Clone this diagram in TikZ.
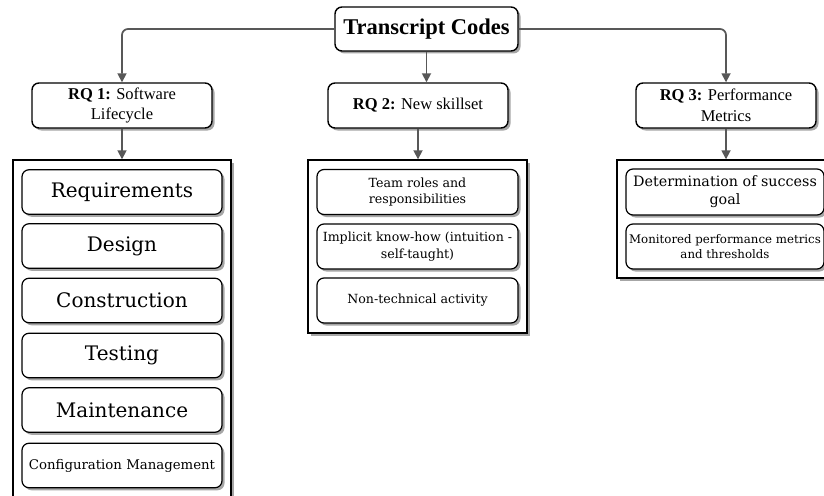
\documentclass[tikz,border=0pt]{standalone}
\usepackage{fontspec}
\setmainfont{Liberation Serif}
\newfontfamily\boxfont{DejaVu Serif}
\usetikzlibrary{arrows.meta,shadows}
\definecolor{linkgray}{HTML}{585858}
\tikzset{
  boxshadow/.style={drop shadow={shadow xshift=2.5pt, shadow yshift=-2.5pt, fill=black!35, opacity=1}},
  headbox/.style={draw=black, line width=1.4pt, rounded corners=7pt, fill=white, boxshadow, align=center, inner sep=2pt},
  rqbox/.style={headbox, minimum width=180pt, minimum height=45pt, font=\fontsize{16.5}{20.5}\selectfont},
  container/.style={draw=black, line width=1.4pt, fill=white, boxshadow},
  itembox/.style={draw=black, line width=1.2pt, rounded corners=7pt, fill=white, boxshadow, align=center, inner sep=1pt},
  link/.style={draw=linkgray, line width=1.7pt, rounded corners=6pt, -{Triangle[length=9pt,width=9pt]}}
}
\begin{document}
\begin{tikzpicture}[x=1pt,y=-1pt]
  \clip (0,0) rectangle (824,495);
  \fill[white] (0,0) rectangle (824,495);

  % root
  \node[headbox, minimum width=183pt, minimum height=44pt, font=\fontsize{22.5}{26}\bfseries\selectfont] (root) at (426.5,29) {Transcript Codes};

  % research questions
  \node[rqbox] (rq1) at (122,105.5) {\textbf{RQ 1:} Software\\Lifecycle};
  \node[rqbox] (rq2) at (418,105.5) {\textbf{RQ 2:} New skillset};
  \node[rqbox] (rq3) at (726,105.5) {\textbf{RQ 3:} Performance\\Metrics};

  % containers
  \node[container, minimum width=218pt, minimum height=350pt] (c1) at (122,335) {};
  \node[container, minimum width=219pt, minimum height=173pt] (c2) at (417.5,246.5) {};
  \node[container, minimum width=216pt, minimum height=118pt] (c3) at (725,219) {};

  % software lifecycle phases
  \begin{scope}[every node/.style={itembox, minimum width=200pt, minimum height=44.5pt}]
    \node[font=\boxfont\fontsize{20}{24}\selectfont] (req) at (122,192) {Requirements};
    \node[font=\boxfont\fontsize{20}{24}\selectfont] (des) at (122,246) {Design};
    \node[font=\boxfont\fontsize{20}{24}\selectfont] (con) at (122,300.5) {Construction};
    \node[font=\boxfont\fontsize{20}{24}\selectfont] (tes) at (122,355.5) {Testing};
    \node[font=\boxfont\fontsize{20}{24}\selectfont] (mai) at (122,410) {Maintenance};
    \node[font=\boxfont\fontsize{13.3}{16}\selectfont] (cfg) at (122,465.5) {Configuration Management};
  \end{scope}

  % new skillset
  \begin{scope}[every node/.style={itembox, minimum width=201pt, minimum height=45pt, font=\boxfont\fontsize{12.6}{16.5}\selectfont}]
    \node (team) at (417.5,192) {Team roles and\\responsibilities};
    \node (impl) at (417.5,246.5) {Implicit know-how (intuition -\\self-taught)};
    \node (nont) at (417.5,300.5) {Non-technical activity};
  \end{scope}

  % performance metrics
  \node[itembox, minimum width=198pt, minimum height=46pt, font=\boxfont\fontsize{14.3}{18}\selectfont] (succ) at (725,192) {Determination of success\\goal};
  \node[itembox, minimum width=198pt, minimum height=45pt, font=\boxfont\fontsize{11.8}{15.5}\selectfont] (moni) at (725,246.5) {Monitored performance metrics\\and thresholds};

  % connectors
  \draw[link] (root.west) -| (rq1.north);
  \draw[link] (root.east) -| (rq3.north);
  \draw[link] (root.south) -- (root.south |- rq2.north);
  \draw[link] (rq1.south) -- (c1.north);
  \draw[link] (rq2.south) -- (rq2.south |- c2.north);
  \draw[link] (rq3.south) -- (rq3.south |- c3.north);
\end{tikzpicture}
\end{document}
